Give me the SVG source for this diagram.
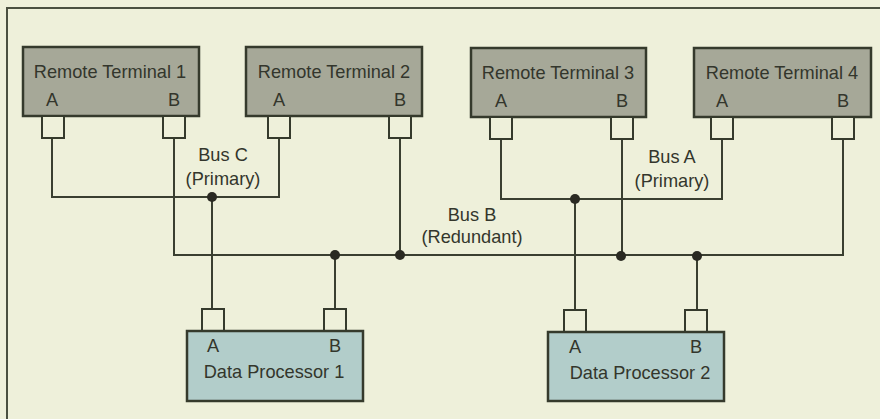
<svg xmlns="http://www.w3.org/2000/svg" width="880" height="419" viewBox="0 0 880 419">
<style>
.bg{fill:#eef0da}
.frame{fill:none;stroke:#4a5040;stroke-width:2}
.rt{fill:#a6a898;stroke:#353a2c;stroke-width:2.5}
.dp{fill:#b2cdca;stroke:#353a2c;stroke-width:2.5}
.port{fill:#eef0da;stroke:#353a2c;stroke-width:2}
.wire{fill:none;stroke:#3a3f30;stroke-width:2}
.dot{fill:#2a2a22}
text{font-family:"Liberation Sans",Arial,sans-serif;font-size:18.2px;fill:#33362c;text-anchor:middle}
</style>
<rect class="bg" x="0" y="0" width="880" height="419"/>
<path class="frame" d="M7,419 V8 H880"/>
<g id="connectors">
<path class="wire" d="M52,138 V197 H279 V138"/>
<path class="wire" d="M212,197 V309"/>
<path class="wire" d="M174,138 V255 H843 V138"/>
<path class="wire" d="M400,138 V255"/>
<path class="wire" d="M335,255 V309"/>
<path class="wire" d="M501,139 V199 H722 V139"/>
<path class="wire" d="M575,199 V310"/>
<path class="wire" d="M622,139 V255"/>
<path class="wire" d="M697,255 V310"/>
<circle class="dot" cx="212" cy="197" r="5"/>
<circle class="dot" cx="335" cy="255" r="5"/>
<circle class="dot" cx="400" cy="255" r="5"/>
<circle class="dot" cx="575" cy="199" r="5"/>
<circle class="dot" cx="621" cy="256" r="5"/>
<circle class="dot" cx="697" cy="256" r="5"/>
<text x="223" y="161">Bus C</text>
<text x="223" y="185">(Primary)</text>
<text x="672" y="163">Bus A</text>
<text x="672" y="187">(Primary)</text>
<text x="472" y="221">Bus B</text>
<text x="472" y="243">(Redundant)</text>
</g>
<g id="rt1">
<rect class="rt" x="23" y="47" width="176" height="69"/>
<rect class="port" x="42" y="116" width="22" height="22"/>
<rect class="port" x="163" y="116" width="22" height="22"/>
<text x="110" y="78">Remote Terminal 1</text>
<text x="52" y="106">A</text>
<text x="174" y="106">B</text>
</g>
<g id="rt2">
<rect class="rt" x="246" y="47" width="176" height="69"/>
<rect class="port" x="268" y="116" width="22" height="22"/>
<rect class="port" x="389" y="116" width="22" height="22"/>
<text x="334" y="78">Remote Terminal 2</text>
<text x="279" y="106">A</text>
<text x="400" y="106">B</text>
</g>
<g id="rt3">
<rect class="rt" x="471" y="48" width="175" height="69"/>
<rect class="port" x="490" y="117" width="22" height="22"/>
<rect class="port" x="611" y="117" width="22" height="22"/>
<text x="558" y="79">Remote Terminal 3</text>
<text x="501" y="107">A</text>
<text x="622" y="107">B</text>
</g>
<g id="rt4">
<rect class="rt" x="694" y="48" width="177" height="69"/>
<rect class="port" x="711" y="117" width="22" height="22"/>
<rect class="port" x="832" y="117" width="22" height="22"/>
<text x="782" y="79">Remote Terminal 4</text>
<text x="722" y="107">A</text>
<text x="843" y="107">B</text>
</g>
<g id="dp1">
<rect class="port" x="202" y="309" width="22" height="22"/>
<rect class="port" x="324" y="309" width="22" height="22"/>
<rect class="dp" x="187" y="331" width="176" height="70"/>
<text x="213" y="352">A</text>
<text x="335" y="352">B</text>
<text x="274" y="378">Data Processor 1</text>
</g>
<g id="dp2">
<rect class="port" x="564" y="310" width="22" height="22"/>
<rect class="port" x="685" y="310" width="22" height="22"/>
<rect class="dp" x="548" y="332" width="176" height="69"/>
<text x="575" y="353">A</text>
<text x="696" y="353">B</text>
<text x="640" y="379">Data Processor 2</text>
</g>
</svg>
